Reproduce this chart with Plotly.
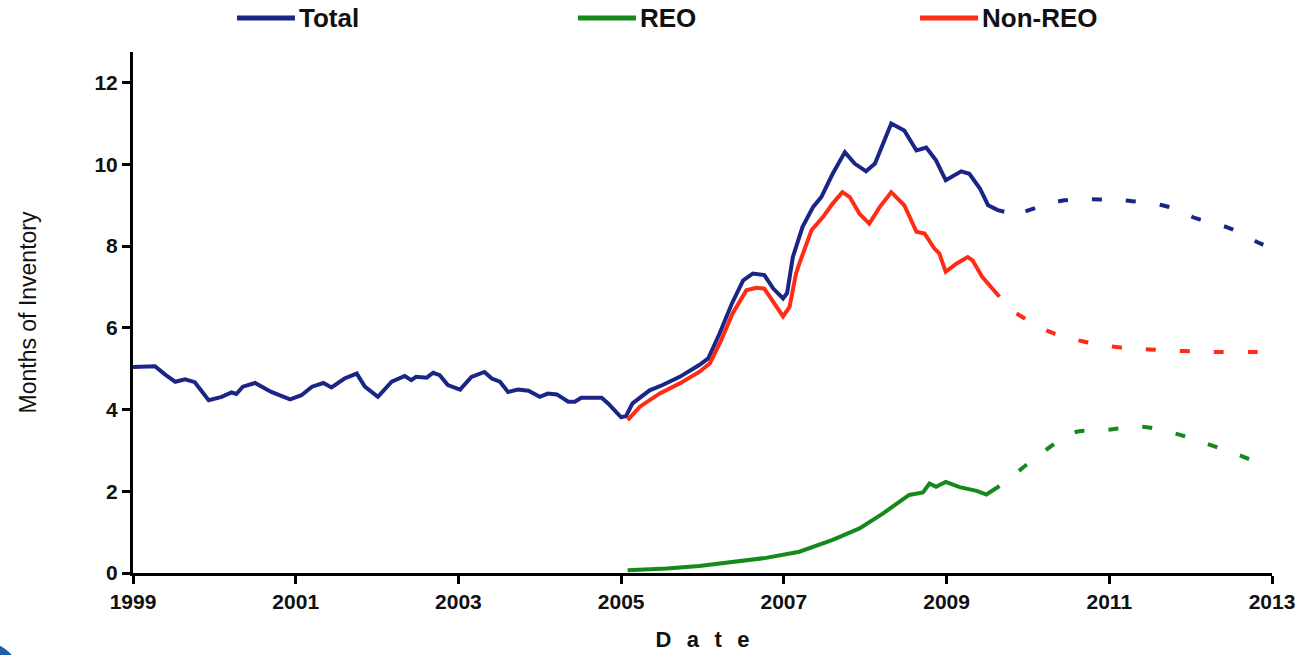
import plotly.graph_objects as go

# ---- Months of inventory, history (decimal years) ----
total_dates = [1999.00, 1999.10, 1999.27, 1999.40, 1999.52, 1999.64, 1999.76, 1999.93,
               2000.09, 2000.21, 2000.27, 2000.35, 2000.50, 2000.70, 2000.93,
               2001.07, 2001.20, 2001.34, 2001.44, 2001.60, 2001.75, 2001.85,
               2002.01, 2002.18, 2002.34, 2002.42, 2002.48, 2002.61, 2002.69, 2002.77, 2002.87,
               2003.02, 2003.16, 2003.32, 2003.41, 2003.51, 2003.61, 2003.73, 2003.86,
               2004.00, 2004.10, 2004.21, 2004.35, 2004.43, 2004.51, 2004.76, 2004.84,
               2005.00, 2005.06, 2005.14, 2005.35, 2005.51, 2005.72, 2005.96,
               2006.07, 2006.21, 2006.36, 2006.50, 2006.62, 2006.76, 2006.87, 2006.99,
               2007.04, 2007.11, 2007.23, 2007.36, 2007.46, 2007.60, 2007.75, 2007.87,
               2008.01, 2008.12, 2008.22, 2008.32, 2008.48, 2008.63, 2008.75, 2008.87, 2008.99,
               2009.18, 2009.28, 2009.41, 2009.51, 2009.63, 2009.71]
total_values = [5.04, 5.05, 5.06, 4.85, 4.68, 4.74, 4.67, 4.23,
                4.31, 4.42, 4.38, 4.56, 4.65, 4.43, 4.25,
                4.35, 4.56, 4.65, 4.54, 4.76, 4.88, 4.56,
                4.31, 4.68, 4.82, 4.72, 4.80, 4.78, 4.90, 4.84, 4.60,
                4.49, 4.80, 4.92, 4.76, 4.68, 4.43, 4.49, 4.46,
                4.31, 4.39, 4.37, 4.19, 4.19, 4.29, 4.29, 4.15,
                3.81, 3.84, 4.15, 4.47, 4.60, 4.80, 5.09,
                5.25, 5.86, 6.59, 7.16, 7.33, 7.29, 6.96, 6.72,
                6.85, 7.73, 8.47, 8.96, 9.20, 9.77, 10.30, 10.02,
                9.83, 10.02, 10.51, 11.00, 10.83, 10.34, 10.41, 10.10, 9.61,
                9.83, 9.77, 9.41, 9.00, 8.88, 8.84]

reo_dates = [2005.08, 2005.56, 2005.96, 2006.37, 2006.78, 2007.19, 2007.60, 2007.93,
             2008.22, 2008.54, 2008.71, 2008.79, 2008.87, 2008.99, 2009.16, 2009.37,
             2009.49, 2009.65]
reo_values = [0.07, 0.11, 0.17, 0.28, 0.37, 0.52, 0.81, 1.09,
              1.46, 1.91, 1.97, 2.19, 2.11, 2.23, 2.10, 2.01,
              1.92, 2.13]

nonreo_dates = [2005.08, 2005.23, 2005.47, 2005.72, 2005.96, 2006.09, 2006.23, 2006.37,
                2006.54, 2006.66, 2006.76, 2006.89, 2006.99, 2007.07, 2007.15, 2007.19,
                2007.34, 2007.48, 2007.60, 2007.72, 2007.81, 2007.93, 2008.05, 2008.18,
                2008.32, 2008.48, 2008.63, 2008.73, 2008.85, 2008.91, 2008.99, 2009.12,
                2009.26, 2009.32, 2009.44, 2009.65]
nonreo_values = [3.74, 4.07, 4.39, 4.64, 4.92, 5.13, 5.70, 6.35,
                 6.92, 6.98, 6.96, 6.59, 6.28, 6.51, 7.33, 7.57,
                 8.39, 8.71, 9.04, 9.32, 9.20, 8.79, 8.55, 8.96,
                 9.32, 9.00, 8.35, 8.31, 7.94, 7.82, 7.37, 7.57,
                 7.73, 7.65, 7.24, 6.76]

# ---- Projections ----
total_fc_dates = [2009.97, 2010.45, 2010.88, 2011.28, 2011.71, 2012.08, 2012.49, 2012.86, 2012.99]
total_fc_values = [8.85, 9.12, 9.14, 9.10, 8.97, 8.67, 8.43, 8.06, 7.95]

reo_fc_dates = [2009.89, 2010.22, 2010.55, 2010.96, 2011.39, 2011.80, 2012.19, 2012.60, 2012.95]
reo_fc_values = [2.50, 3.01, 3.43, 3.50, 3.58, 3.42, 3.17, 2.88, 2.60]

nonreo_fc_dates = [2009.86, 2010.27, 2010.67, 2011.08, 2011.49, 2011.92, 2012.33, 2012.76, 2012.95]
nonreo_fc_values = [6.35, 5.90, 5.67, 5.53, 5.47, 5.43, 5.41, 5.41, 5.41]

series_names = ["Total", "REO", "Non-REO"]
year_ticks = [1999, 2001, 2003, 2005, 2007, 2009, 2011, 2013]
month_ticks = [0, 2, 4, 6, 8, 10, 12]

BLUE = "#1b2585"
GREEN = "#16891c"
RED = "#ff2b14"
COLORS = [BLUE, GREEN, RED]
LW = 4
DASH = "10px,24px"
ARIAL = "Liberation Sans, Arial, sans-serif"

fig = go.Figure()

history = [(total_dates, total_values), (reo_dates, reo_values), (nonreo_dates, nonreo_values)]
projection = [(total_fc_dates, total_fc_values), (reo_fc_dates, reo_fc_values),
              (nonreo_fc_dates, nonreo_fc_values)]

for name, color, (xs, ys) in zip(series_names, COLORS, history):
    fig.add_trace(go.Scatter(x=xs, y=ys, mode="lines", name=name,
                             line=dict(color=color, width=LW)))
for name, color, (xs, ys) in zip(series_names, COLORS, projection):
    fig.add_trace(go.Scatter(x=xs, y=ys, mode="lines", name=name + " (projected)",
                             line=dict(color=color, width=LW, dash=DASH, shape="spline")))

# Key across the top: a short colour bar followed by the series name
shapes = []
annotations = []
key_x = [0.0913, 0.3907, 0.6910]      # left end of each key bar (paper units)
bar_len = 0.0509
key_y = 1.0653
for name, color, kx in zip(series_names, COLORS, key_x):
    shapes.append(dict(type="line", xref="paper", yref="paper", x0=kx, x1=kx + bar_len,
                       y0=key_y, y1=key_y, line=dict(color=color, width=5)))
    annotations.append(dict(xref="paper", yref="paper", x=kx + bar_len + 0.002, y=key_y,
                            xanchor="left", yanchor="middle", showarrow=False, text=name,
                            font=dict(family=ARIAL, size=26, color="#111111", weight="bold")))

# decorative corner disc
shapes.append(dict(type="circle", xref="paper", yref="paper", x0=-0.17, x1=-0.1,
                   y0=-0.26, y1=-0.13, fillcolor="#1f5fa6", line=dict(width=0), layer="above"))

TICKFONT = dict(family=ARIAL, size=21, color="#111111", weight="bold")

fig.update_layout(
    width=1304, height=655,
    margin=dict(l=133, r=32, t=52, b=82),
    paper_bgcolor="white", plot_bgcolor="white",
    showlegend=False,
    xaxis=dict(range=[1999, 2013], tickvals=year_ticks, ticktext=[str(y) for y in year_ticks],
               automargin=False,
               showgrid=False, zeroline=False, showline=True, linecolor="black", linewidth=3,
               ticks="outside", ticklen=8, tickwidth=3, tickcolor="black", tickfont=TICKFONT,
               title=dict(text="D\u2002\u2009a\u2002\u2009t\u2002\u2009e", standoff=20,
                          font=dict(family=ARIAL, size=22, color="#111111", weight="bold"))),
    yaxis=dict(range=[0, 12.75], tickvals=month_ticks, automargin=False,
               showgrid=False, zeroline=False,
               showline=True, linecolor="black", linewidth=3,
               ticks="outside", ticklen=8, tickwidth=3, tickcolor="black", tickfont=TICKFONT,
               title=dict(text="Months of Inventory", standoff=52,
                          font=dict(family=ARIAL, size=23, color="#111111"))),
    shapes=shapes,
    annotations=annotations,
)

fig.write_html("out.html")
